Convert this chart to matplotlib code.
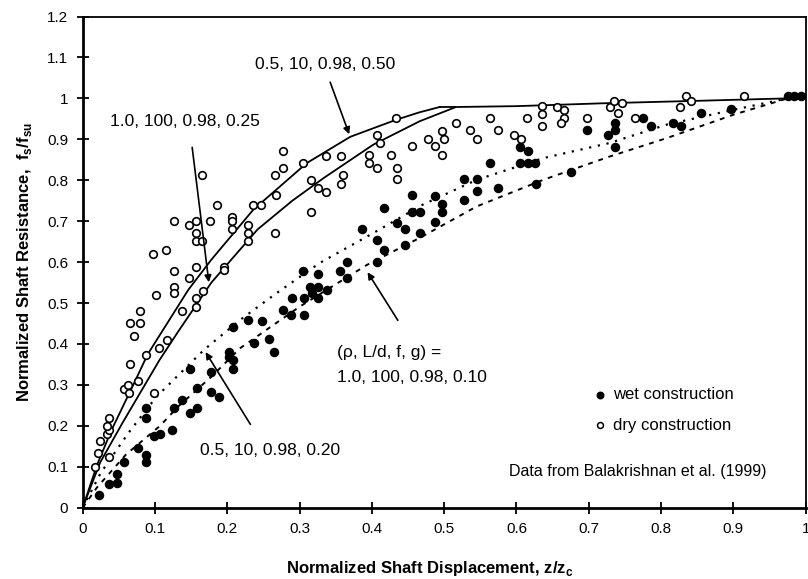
import matplotlib
matplotlib.use("Agg")
from matplotlib import pyplot as plt
import numpy as np

plt.rcParams['font.family'] = ['Liberation Sans', 'DejaVu Sans']

# measured data (Balakrishnan et al. 1999)
dry_x = [0.017, 0.021, 0.024, 0.036, 0.033, 0.036, 0.034, 0.036,
         0.057, 0.063, 0.064, 0.066, 0.077, 0.087, 0.098, 0.106, 0.116,
         0.071, 0.066, 0.080, 0.080, 0.101, 0.137, 0.126, 0.126, 0.157, 0.157, 0.166,
         0.126, 0.147, 0.157, 0.196, 0.196, 0.097, 0.115,
         0.126, 0.147, 0.157, 0.176, 0.157, 0.157, 0.165,
         0.165, 0.186, 0.207, 0.207, 0.207, 0.228, 0.228, 0.228, 0.236, 0.246,
         0.266, 0.267, 0.266, 0.277, 0.277, 0.305, 0.316, 0.316, 0.326, 0.337, 0.337,
         0.357, 0.360, 0.357,
         0.396, 0.396, 0.407, 0.407, 0.411, 0.427, 0.435, 0.435, 0.434, 0.456,
         0.477, 0.487, 0.497, 0.500, 0.497,
         0.516, 0.536, 0.546, 0.564, 0.575, 0.596, 0.606, 0.615, 0.635, 0.635,
         0.635, 0.656, 0.666, 0.666, 0.661, 0.697, 0.729, 0.735, 0.746, 0.740,
         0.764, 0.826, 0.834, 0.841, 0.915]
dry_y = [0.100, 0.134, 0.162, 0.123, 0.180, 0.190, 0.200, 0.220,
         0.290, 0.300, 0.280, 0.350, 0.310, 0.373, 0.280, 0.390, 0.410,
         0.420, 0.451, 0.451, 0.480, 0.520, 0.480, 0.540, 0.524, 0.491, 0.512, 0.530,
         0.579, 0.561, 0.589, 0.589, 0.580, 0.620, 0.630,
         0.700, 0.690, 0.700, 0.700, 0.671, 0.652, 0.652,
         0.812, 0.739, 0.711, 0.700, 0.680, 0.690, 0.670, 0.652, 0.740, 0.740,
         0.671, 0.763, 0.813, 0.831, 0.872, 0.842, 0.722, 0.800, 0.780, 0.771, 0.860,
         0.860, 0.813, 0.790,
         0.861, 0.842, 0.831, 0.911, 0.891, 0.861, 0.831, 0.802, 0.952, 0.883,
         0.900, 0.883, 0.920, 0.900, 0.861,
         0.940, 0.923, 0.900, 0.952, 0.923, 0.911, 0.900, 0.952, 0.982, 0.963,
         0.933, 0.980, 0.972, 0.952, 0.940, 0.952, 0.980, 0.993, 0.989, 0.964,
         0.952, 0.980, 1.005, 0.993, 1.005]

wet_x = [0.022, 0.037, 0.048, 0.048, 0.057, 0.077, 0.088, 0.088, 0.088, 0.088,
         0.098, 0.107, 0.123, 0.126, 0.138, 0.148, 0.148, 0.158, 0.158, 0.177,
         0.177, 0.188, 0.202, 0.202, 0.208, 0.208, 0.208, 0.228, 0.237, 0.248,
         0.258, 0.264, 0.277, 0.289, 0.288,
         0.305, 0.326, 0.315, 0.326, 0.338, 0.317, 0.326, 0.306, 0.306, 0.356,
         0.366, 0.365, 0.386, 0.407, 0.417, 0.407, 0.417, 0.435, 0.446, 0.446,
         0.456, 0.456, 0.466, 0.467, 0.487, 0.497, 0.497, 0.487,
         0.527, 0.546, 0.546, 0.527, 0.564, 0.575, 0.605, 0.616, 0.605, 0.616,
         0.626, 0.627, 0.676, 0.697, 0.726, 0.736, 0.736, 0.736, 0.775, 0.786,
         0.816, 0.827, 0.855, 0.897, 0.975, 0.984, 0.993]
wet_y = [0.030, 0.058, 0.060, 0.083, 0.112, 0.145, 0.128, 0.112, 0.220, 0.243,
         0.174, 0.180, 0.190, 0.243, 0.262, 0.340, 0.231, 0.243, 0.293, 0.332,
         0.283, 0.271, 0.380, 0.369, 0.360, 0.339, 0.442, 0.459, 0.402, 0.455,
         0.412, 0.380, 0.483, 0.512, 0.471,
         0.579, 0.571, 0.540, 0.539, 0.532, 0.524, 0.512, 0.512, 0.471, 0.579,
         0.601, 0.561, 0.681, 0.653, 0.630, 0.601, 0.732, 0.695, 0.681, 0.642,
         0.763, 0.722, 0.722, 0.671, 0.762, 0.743, 0.722, 0.699,
         0.802, 0.802, 0.773, 0.752, 0.842, 0.780, 0.882, 0.871, 0.842, 0.842,
         0.842, 0.791, 0.821, 0.922, 0.911, 0.941, 0.922, 0.882, 0.952, 0.933,
         0.941, 0.933, 0.964, 0.975, 1.006, 1.006, 1.006]

c050_x = [0, 0.02, 0.04, 0.07, 0.09, 0.146, 0.178, 0.236, 0.31, 0.37, 0.434, 0.466, 0.494]
c050_y = [0, 0.105, 0.19, 0.30, 0.375, 0.532, 0.606, 0.728, 0.842, 0.906, 0.948, 0.966, 0.979]
c025_x = [0, 0.024, 0.056, 0.086, 0.106, 0.132, 0.178, 0.242, 0.29, 0.333, 0.402, 0.466, 0.515]
c025_y = [0, 0.11, 0.21, 0.30, 0.36, 0.43, 0.55, 0.68, 0.75, 0.805, 0.887, 0.944, 0.978]
flat_x = [0.494, 0.52, 0.6, 0.72, 0.85, 0.975]
flat_y = [0.979, 0.979, 0.981, 0.988, 0.994, 1.0]
c020_x = [0, 0.025, 0.063, 0.102, 0.168, 0.218, 0.268, 0.328, 0.402, 0.47, 0.545, 0.637, 0.729, 0.808, 0.9, 0.975]
c020_y = [0, 0.085, 0.182, 0.271, 0.386, 0.459, 0.524, 0.598, 0.671, 0.74, 0.801, 0.854, 0.891, 0.936, 0.972, 1.0]
c010_x = [0, 0.02, 0.06, 0.107, 0.132, 0.178, 0.218, 0.30, 0.393, 0.466, 0.545, 0.637, 0.729, 0.808, 0.9, 0.975]
c010_y = [0, 0.05, 0.13, 0.20, 0.247, 0.32, 0.39, 0.491, 0.593, 0.659, 0.736, 0.801, 0.858, 0.903, 0.96, 1.0]

fig = plt.figure(figsize=(8.08, 5.79), dpi=100)
ax = fig.add_axes([0.1023, 0.1231, 0.8948, 0.8484])

ax.plot(c050_x, c050_y, color='black', lw=1.3)
ax.plot(c025_x, c025_y, color='black', lw=1.3)
ax.plot(flat_x, flat_y, color='black', lw=1.3)
ax.plot(c020_x, c020_y, color='black', lw=1.6, ls=(0, (1, 3)))
ax.plot(c010_x, c010_y, color='black', lw=1.4, ls=(0, (2.5, 3)))

ax.scatter(wet_x, wet_y, s=34, c='black', zorder=3, clip_on=False)
ax.scatter(dry_x, dry_y, s=30, facecolors='white', edgecolors='black', linewidths=1.2, zorder=3, clip_on=False)

ax.set_xlim(0, 1)
ax.set_ylim(0, 1.2)
ax.set_xticks(np.arange(0, 1.01, 0.1))
ax.set_xticklabels(['0', '0.1', '0.2', '0.3', '0.4', '0.5', '0.6', '0.7', '0.8', '0.9', '1'])
ax.set_yticks(np.arange(0, 1.21, 0.1))
ax.set_yticklabels(['0', '0.1', '0.2', '0.3', '0.4', '0.5', '0.6', '0.7', '0.8', '0.9', '1', '1.1', '1.2'])
ax.tick_params(direction='inout', length=9, width=1.3, labelsize=11, pad=6)
for s in ax.spines.values():
    s.set_linewidth(1.3)
ax.spines['left'].set_linewidth(2)
ax.spines['bottom'].set_linewidth(2)

ax.set_xlabel('Normalized Shaft Displacement, z/z$_\\mathregular{c}$', fontsize=12, fontweight='bold', labelpad=14)
ax.xaxis.set_label_coords(0.48, -0.105)
ax.set_ylabel('Normalized Shaft Resistance,  f$_\\mathregular{s}$/f$_\\mathregular{su}$', fontsize=12, fontweight='bold', labelpad=9)

tfs = 12.5
ax.text(0.238, 1.082, '0.5, 10, 0.98, 0.50', fontsize=tfs, va='center')
ax.annotate('', xy=(0.37, 0.906), xytext=(0.341, 1.046),
            arrowprops=dict(arrowstyle='-|>', color='black', lw=1.2, mutation_scale=10))
ax.text(0.038, 0.943, '1.0, 100, 0.98, 0.25', fontsize=tfs, va='center')
ax.annotate('', xy=(0.175, 0.544), xytext=(0.151, 0.887),
            arrowprops=dict(arrowstyle='-|>', color='black', lw=1.2, mutation_scale=10))
ax.text(0.162, 0.141, '0.5, 10, 0.98, 0.20', fontsize=tfs, va='center')
ax.annotate('', xy=(0.168, 0.386), xytext=(0.234, 0.198),
            arrowprops=dict(arrowstyle='-|>', color='black', lw=1.2, mutation_scale=10))
ax.text(0.352, 0.378, '(\u03c1, L/d, f, g) =', fontsize=tfs, va='center')
ax.text(0.352, 0.319, '1.0, 100, 0.98, 0.10', fontsize=tfs, va='center')
ax.annotate('', xy=(0.392, 0.581), xytext=(0.438, 0.452),
            arrowprops=dict(arrowstyle='-|>', color='black', lw=1.2, mutation_scale=10))

ax.scatter([0.715], [0.276], s=22, c='black', clip_on=False)
ax.text(0.733, 0.276, 'wet construction', fontsize=12, va='center')
ax.scatter([0.715], [0.202], s=18, facecolors='white', edgecolors='black', linewidths=1.1)
ax.text(0.733, 0.202, 'dry construction', fontsize=12, va='center')
ax.text(0.946, 0.088, 'Data from Balakrishnan et al. (1999)', fontsize=11.5, va='center', ha='right')

fig.savefig('out.png', dpi=100)
